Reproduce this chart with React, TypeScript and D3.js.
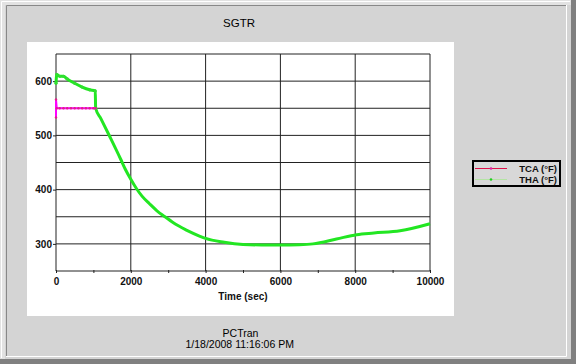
import React, { useEffect, useRef } from 'react';
import * as d3 from 'd3';

// time axis values (sec)
const thaTime = [0, 20, 100, 200, 300, 500, 700, 900, 1050, 1060, 1200, 1444, 1730, 1850, 2000, 2150, 2300, 2500, 2700, 2914, 3200, 3500, 3850, 4000, 4500, 5000, 5500, 6000, 6500, 6870, 7500, 8040, 8500, 9200, 10000];
const thaValues = [596, 612, 609, 609, 604, 596, 589, 584, 582, 550, 531, 497, 456, 438, 419, 402, 388, 374, 361, 350, 336, 325, 314, 310, 303, 299, 298, 298, 298.5, 300, 309, 317, 320, 324, 337];

const tcaTime = [0, 0, 20, 100, 200, 300, 400, 500, 600, 700, 800, 900, 1000, 1060];
const tcaValues = [533, 566, 550, 550, 550, 550, 550, 550, 550, 550, 550, 550, 550, 550];

const xTicks = [0, 1000, 2000, 3000, 4000, 5000, 6000, 7000, 8000, 9000, 10000];
const xLabels = [0, 2000, 4000, 6000, 8000, 10000];
const yTicks = [300, 400, 500, 600];
const yGrid = [300, 350, 400, 450, 500, 550, 600, 650];
const seriesNames = ['TCA (°F)', 'THA (°F)'];

const W = 576;
const H = 364;
const FONT = 'Arial, "Liberation Sans", sans-serif';

const App = () => {
  const svgRef = useRef<SVGSVGElement>(null);

  useEffect(() => {
    const svg = d3.select(svgRef.current);
    svg.selectAll('*').remove();

    // window frame
    svg.append('rect').attr('width', W).attr('height', H).attr('fill', '#d4d4d4');
    svg.append('rect').attr('width', W).attr('height', 5).attr('fill', '#e2e2e2');
    svg.append('rect').attr('width', 5).attr('height', H).attr('fill', '#e2e2e2');
    svg.append('rect').attr('x', 571).attr('width', 5).attr('height', H).attr('fill', '#808080');
    svg.append('rect').attr('y', 359).attr('width', W).attr('height', 5).attr('fill', '#808080');
    svg.append('path').attr('d', 'M1.5,358V1.5H570').attr('fill', 'none').attr('stroke', '#fff');
    svg.append('path').attr('d', 'M6.5,357V5.5H567').attr('fill', 'none').attr('stroke', '#888');
    svg.append('path').attr('d', 'M6,356.5H566.5V5').attr('fill', 'none').attr('stroke', '#fff');

    // plot background
    svg.append('rect').attr('x', 27).attr('y', 42).attr('width', 427).attr('height', 274).attr('fill', '#fff');

    const x = d3.scaleLinear().domain([0, 10000]).range([56, 430]);
    const y = d3.scaleLinear().domain([250, 650]).range([271, 54]);

    const grid = svg.append('g').attr('stroke', '#222').attr('stroke-width', 1);
    yGrid.forEach((v) => {
      grid.append('line').attr('x1', x(0)).attr('x2', x(10000)).attr('y1', y(v)).attr('y2', y(v));
    });
    xLabels.forEach((v) => {
      grid.append('line').attr('x1', x(v)).attr('x2', x(v)).attr('y1', y(250)).attr('y2', y(650));
    });
    grid.append('line').attr('x1', x(0)).attr('x2', x(10000)).attr('y1', y(250)).attr('y2', y(250));

    const xAxis = d3
      .axisBottom(x)
      .tickValues(xTicks)
      .tickSize(3)
      .tickPadding(5)
      .tickFormat((d) => (xLabels.includes(+d) ? String(d) : ''));
    const gx = svg.append('g').attr('transform', `translate(0,${y(250) - 1})`).call(xAxis);
    gx.select('.domain').remove();
    gx.selectAll('line').attr('stroke', '#222');
    gx.selectAll('text').attr('font-family', FONT).attr('font-size', 10).attr('font-weight', 'bold').attr('fill', '#111');

    const yAxis = d3.axisLeft(y).tickValues(yTicks).tickSize(3).tickPadding(1).tickFormat((d) => String(d));
    const gy = svg.append('g').attr('transform', `translate(${x(0)},0)`).call(yAxis);
    gy.select('.domain').remove();
    gy.selectAll('line').attr('stroke', '#222');
    gy.selectAll('text').attr('font-family', FONT).attr('font-size', 10).attr('font-weight', 'bold').attr('fill', '#111');

    // series
    const tha = thaTime.map((t, i) => [t, thaValues[i]] as [number, number]);
    const tca = tcaTime.map((t, i) => [t, tcaValues[i]] as [number, number]);

    const thaLine = d3
      .line<[number, number]>()
      .x((d) => x(d[0]))
      .y((d) => y(d[1]))
      .curve(d3.curveMonotoneX);
    const tcaLine = d3
      .line<[number, number]>()
      .x((d) => x(d[0]))
      .y((d) => y(d[1]));

    svg.append('path').datum(tha).attr('d', thaLine).attr('fill', 'none').attr('stroke', '#22e622').attr('stroke-width', 3);
    svg
      .append('g')
      .selectAll('circle')
      .data(tha.slice(0, 10))
      .join('circle')
      .attr('cx', (d) => x(d[0]))
      .attr('cy', (d) => y(d[1]))
      .attr('r', 1.6)
      .attr('fill', '#33dd33');

    svg.append('path').datum(tca).attr('d', tcaLine).attr('fill', 'none').attr('stroke', '#ff00ff').attr('stroke-width', 2);
    svg
      .append('g')
      .selectAll('circle')
      .data(tca)
      .join('circle')
      .attr('cx', (d) => x(d[0]))
      .attr('cy', (d) => y(d[1]))
      .attr('r', 1.2)
      .attr('fill', '#e0208a');

    // texts
    svg.append('text').attr('x', 239).attr('y', 27).attr('text-anchor', 'middle')
      .attr('font-family', FONT).attr('font-size', 11.5).attr('fill', '#000').text('SGTR');
    svg.append('text').attr('x', (x(0) + x(10000)) / 2).attr('y', 300).attr('text-anchor', 'middle')
      .attr('font-family', FONT).attr('font-size', 10).attr('font-weight', 'bold').attr('fill', '#111').text('Time (sec)');
    svg.append('text').attr('x', 240.5).attr('y', 337).attr('text-anchor', 'middle')
      .attr('font-family', FONT).attr('font-size', 10.5).attr('fill', '#000').text('PCTran');
    svg.append('text').attr('x', 239.7).attr('y', 347.5).attr('text-anchor', 'middle')
      .attr('font-family', FONT).attr('font-size', 10.5).attr('fill', '#000').text('1/18/2008 11:16:06 PM');

    // legend
    const lg = svg.append('g');
    lg.append('rect').attr('x', 473).attr('y', 161).attr('width', 87).attr('height', 25)
      .attr('fill', '#d8d8d8').attr('stroke', '#000').attr('stroke-width', 2);
    const legendColors = ['#e0104a', '#b4e4a4'];
    const markerColors = ['#e020a0', '#22cc22'];
    seriesNames.forEach((name, i) => {
      const ly = 168.5 + i * 11;
      lg.append('line').attr('x1', 475).attr('x2', 507).attr('y1', ly).attr('y2', ly).attr('stroke', legendColors[i]);
      lg.append('circle').attr('cx', 491).attr('cy', ly).attr('r', 1.3).attr('fill', markerColors[i]);
      lg.append('text').attr('x', 557).attr('y', ly + 3.5).attr('text-anchor', 'end')
        .attr('font-family', FONT).attr('font-size', 9.5).attr('font-weight', 'bold').attr('fill', '#111').text(name);
    });
  }, []);

  return (
    <svg
      ref={svgRef}
      width={W}
      height={H}
      style={{ position: 'absolute', left: 0, top: 0, display: 'block' }}
    />
  );
};

export default App;
